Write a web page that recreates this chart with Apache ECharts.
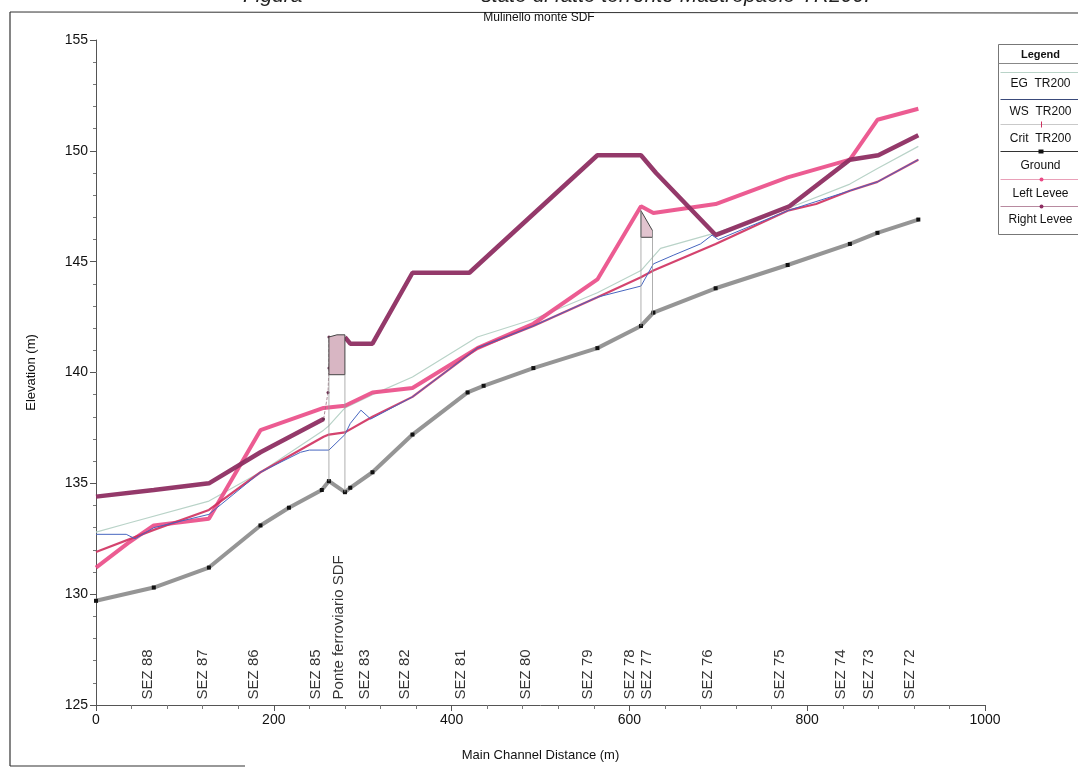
<!DOCTYPE html>
<html>
<head>
<meta charset="utf-8">
<script src="https://cdn.jsdelivr.net/npm/echarts@6/dist/echarts.min.js"></script>
<style>
html,body{margin:0;padding:0;background:#fff;}
#chart{width:1078px;height:770px;}
</style>
</head>
<body>
<div id="chart"></div>
<script>
// ---- data (Main Channel Distance m, Elevation m) ----
const egTR200 = [[0,132.8],[36,133.2],[127,134.2],[185,135.5],[256,137.4],[262,137.6],[280,138.4],[311,139.0],[356,139.8],[429,141.6],[492,142.4],[564,143.6],[613,144.6],[635,145.6],[697,146.3],[744,146.9],[778,147.4],[848,148.5],[879,149.2],[925,150.2]];
const wsTR200 = [[0,132.7],[34,132.7],[44,132.5],[65,133.0],[127,133.6],[185,135.5],[230,136.4],[240,136.5],[262,136.5],[280,137.2],[286,137.7],[298,138.3],[309,137.9],[356,138.9],[429,141.1],[492,142.1],[564,143.4],[613,143.9],[627,144.9],[650,145.3],[680,145.8],[693,146.2],[700,146.0],[778,147.3],[848,148.2],[879,148.6],[925,149.6]];
const critTR200 = [[0,131.9],[65,132.9],[127,133.8],[185,135.5],[256,137.1],[262,137.2],[280,137.3],[311,138.0],[356,138.9],[429,141.1],[492,142.1],[564,143.4],[613,144.3],[627,144.6],[697,145.8],[778,147.3],[810,147.6],[848,148.2],[879,148.6],[925,149.6]];
const ground = [[0,129.7],[65,130.3],[127,131.2],[185,133.1],[217,133.9],[254,134.7],[262,135.1],[280,134.6],[286,134.8],[311,135.5],[356,137.2],[418,139.1],[436,139.4],[492,140.2],[564,141.1],[613,142.1],[627,142.7],[697,143.8],[778,144.85],[848,145.8],[879,146.3],[925,146.9]];
const leftLevee = [[0,131.2],[36,132.3],[65,133.1],[127,133.4],[185,137.4],[256,138.4],[280,138.5],[311,139.1],[356,139.3],[429,141.1],[492,142.2],[564,144.2],[613,147.5],[627,147.2],[697,147.6],[778,148.8],[848,149.6],[879,151.4],[925,151.9]];
const rightLevee = [[0,134.4],[65,134.7],[127,135.0],[185,136.4],[256,137.9],[259,'-'],[280,141.6],[286,141.3],[311,141.3],[356,144.5],[420,144.5],[564,149.8],[613,149.8],[630,149.0],[697,146.2],[780,147.5],[848,149.6],[880,149.8],[925,150.7]];
const rightLeveeBridge = [[256,137.9],[261,139.1],[262,140.2],[262,141.6]];
// bridge "Ponte ferroviario SDF" deck outline and faces
const bridgeDeck = [[262,141.6],[271,141.7],[280,141.7],[280,139.9],[262,139.9]];
const bridgeFaces = [[[262,139.9],[262,135.1]],[[280,139.9],[280,134.6]]];
// inline structure between SEZ 78 and SEZ 77
const inlineDeck = [[613,147.3],[626,146.4],[626,146.1],[613,146.1]];
const inlineFaces = [[[613,147.3],[613,142.1]],[[626,146.4],[626,142.6]]];
// section labels
const sectionNames = ['SEZ 88','SEZ 87','SEZ 86','SEZ 85','Ponte ferroviario SDF','SEZ 83','SEZ 82','SEZ 81','SEZ 80','SEZ 79','SEZ 78','SEZ 77','SEZ 76','SEZ 75','SEZ 74','SEZ 73','SEZ 72'];
const sectionLabelX = [58,120,178,247,273,302,347,410,484,553,601,620,688,769,838,869,916];
const legendItems = ['EG  TR200','WS  TR200','Crit  TR200','Ground','Left Levee','Right Levee'];
const xTicks = {min:0,max:1000,interval:200};
const yTicks = {min:125,max:155,interval:5};

const colors = {eg:'#b9d3c8',ws:'#4766c0',crit:'#cf2f5e',ground:'#8a8a8a',left:'#ea4a86',right:'#8e2e62'};

const chart = echarts.init(document.getElementById('chart'));

function polyItem(params, api, pts, style){
  const p = pts.map(d=>api.coord(d));
  return {type:'polygon',shape:{points:p},style:style};
}

const labelData = sectionNames.map((n,i)=>({value:[sectionLabelX[i],125.25],name:n}));
const FONT = 'Liberation Sans, Arial';

const option = {
  animation:false,
  backgroundColor:'#fff',
  title:{text:'Mulinello monte SDF',left:'center',top:7,textStyle:{fontFamily:FONT,fontSize:12,fontWeight:'normal',color:'#111'}},
  grid:{left:96,right:93,top:40,bottom:65},
  xAxis:{type:'value',min:xTicks.min,max:xTicks.max,interval:xTicks.interval,
    name:'Main Channel Distance (m)',nameLocation:'middle',nameGap:44,
    nameTextStyle:{fontFamily:FONT,fontSize:13,color:'#111'},
    axisLine:{lineStyle:{color:'#555',width:1}},axisTick:{show:true,length:6,lineStyle:{color:'#555'}},
    minorTick:{show:true,splitNumber:5,length:4,lineStyle:{color:'#777'}},
    splitLine:{show:false},
    axisLabel:{fontFamily:FONT,fontSize:14,color:'#111',margin:8,formatter:v=>String(v)}},
  yAxis:{type:'value',min:yTicks.min,max:yTicks.max,interval:yTicks.interval,
    name:'Elevation (m)',nameLocation:'middle',nameGap:58,
    nameTextStyle:{fontFamily:FONT,fontSize:13,color:'#111'},
    axisLine:{show:true,lineStyle:{color:'#555',width:1}},axisTick:{show:true,length:6,lineStyle:{color:'#555'}},
    minorTick:{show:true,splitNumber:5,length:3,lineStyle:{color:'#777'}},
    splitLine:{show:false},
    axisLabel:{fontFamily:FONT,fontSize:14,color:'#111',margin:8,formatter:v=>String(v)}},
  series:[
    {name:'EG TR200',type:'line',data:egTR200,showSymbol:false,lineStyle:{color:colors.eg,width:1.2},z:2},
    {name:'Ground',type:'line',data:ground,symbol:'rect',symbolSize:4,itemStyle:{color:'#111'},lineStyle:{color:colors.ground,width:4,opacity:0.9},z:3},
    {name:'Left Levee',type:'line',data:leftLevee,showSymbol:false,lineStyle:{color:colors.left,width:4,opacity:0.9},z:4},
    {name:'Right Levee',type:'line',data:rightLevee,showSymbol:false,connectNulls:false,lineStyle:{color:colors.right,width:4.5,opacity:0.95},z:5},
    {name:'RL bridge',type:'line',data:rightLeveeBridge,symbol:'circle',symbolSize:3,itemStyle:{color:'#6a3050'},lineStyle:{color:'#9a7080',width:0.8,type:'dashed'},z:5},
    {name:'Crit TR200',type:'line',data:critTR200,showSymbol:false,lineStyle:{color:colors.crit,width:2.2,opacity:0.9},z:6},
    {name:'WS TR200',type:'line',data:wsTR200,showSymbol:false,lineStyle:{color:colors.ws,width:1},z:7},
    {name:'structures',type:'custom',z:8,data:[0],
      renderItem:function(params,api){
        const children=[];
        children.push(polyItem(params,api,bridgeDeck,{fill:'#d8b6c3',stroke:'#444',lineWidth:1}));
        children.push(polyItem(params,api,inlineDeck,{fill:'#e2c4cf',stroke:'#444',lineWidth:1}));
        bridgeFaces.concat(inlineFaces).forEach(f=>{
          const a=api.coord(f[0]),b=api.coord(f[1]);
          children.push({type:'line',shape:{x1:a[0],y1:a[1],x2:b[0],y2:b[1]},style:{stroke:'#9a9a9a',lineWidth:0.8}});
        });
        return {type:'group',children:children};
      }},
    {name:'labels',type:'scatter',data:labelData,symbolSize:0,z:9,silent:true,
      label:{show:true,formatter:p=>p.name,rotate:90,position:[0,0],align:'left',verticalAlign:'middle',
        fontFamily:FONT,fontSize:15,color:'#000'}}
  ],
  graphic:[
    // page frame of the scanned figure
    {type:'line',shape:{x1:10,y1:12,x2:1078,y2:13},style:{stroke:'#333',lineWidth:1.2},z:1},
    {type:'line',shape:{x1:10,y1:12,x2:10,y2:766},style:{stroke:'#333',lineWidth:1.2},z:1},
    {type:'line',shape:{x1:10,y1:766,x2:245,y2:766},style:{stroke:'#333',lineWidth:1.2},z:1},
    {type:'text',x:243,y:7,style:{text:'Figura',font:'italic 21px '+FONT,fill:'#222',textAlign:'left',textVerticalAlign:'bottom'}},
    {type:'text',x:870,y:7,style:{text:'stato di fatto torrente Mastropaolo TR200.',font:'italic 21px '+FONT,fill:'#222',textAlign:'right',textVerticalAlign:'bottom'}},
    // legend box
    {type:'group',left:996,top:44,children:[
      {type:'rect',shape:{x:0,y:0,width:100,height:190},style:{fill:'#fff',stroke:'#777',lineWidth:1}},
      {type:'text',x:42,y:10,style:{text:'Legend',font:'bold 11px '+FONT,fill:'#111',textAlign:'center',textVerticalAlign:'middle'}},
      {type:'line',shape:{x1:0,y1:19,x2:100,y2:19},style:{stroke:'#888',lineWidth:1}},
      {type:'line',shape:{x1:2,y1:28,x2:100,y2:28},style:{stroke:colors.eg,lineWidth:1.2}},
      {type:'text',x:42,y:39,style:{text:legendItems[0],font:'12px '+FONT,fill:'#111',textAlign:'center',textVerticalAlign:'middle'}},
      {type:'line',shape:{x1:2,y1:55,x2:100,y2:55},style:{stroke:'#3a4a7a',lineWidth:1.2}},
      {type:'text',x:42,y:67,style:{text:legendItems[1],font:'12px '+FONT,fill:'#111',textAlign:'center',textVerticalAlign:'middle'}},
      {type:'line',shape:{x1:2,y1:80,x2:100,y2:80},style:{stroke:'#c9c9c9',lineWidth:1}},
      {type:'line',shape:{x1:43,y1:77,x2:43,y2:83},style:{stroke:colors.crit,lineWidth:1}},
      {type:'text',x:42,y:94,style:{text:legendItems[2],font:'12px '+FONT,fill:'#111',textAlign:'center',textVerticalAlign:'middle'}},
      {type:'line',shape:{x1:2,y1:107,x2:100,y2:107},style:{stroke:'#333',lineWidth:1}},
      {type:'rect',shape:{x:40,y:105,width:5,height:4},style:{fill:'#111'}},
      {type:'text',x:42,y:121,style:{text:legendItems[3],font:'12px '+FONT,fill:'#111',textAlign:'center',textVerticalAlign:'middle'}},
      {type:'line',shape:{x1:2,y1:135,x2:100,y2:135},style:{stroke:'#e9a0b8',lineWidth:1}},
      {type:'circle',shape:{cx:43,cy:135,r:2},style:{fill:colors.left}},
      {type:'text',x:42,y:149,style:{text:legendItems[4],font:'12px '+FONT,fill:'#111',textAlign:'center',textVerticalAlign:'middle'}},
      {type:'line',shape:{x1:2,y1:162,x2:100,y2:162},style:{stroke:'#b88aa0',lineWidth:1}},
      {type:'circle',shape:{cx:43,cy:162,r:2},style:{fill:colors.right}},
      {type:'text',x:42,y:175,style:{text:legendItems[5],font:'12px '+FONT,fill:'#111',textAlign:'center',textVerticalAlign:'middle'}}
    ]}
  ]
};
chart.setOption(option);
</script>
</body>
</html>
